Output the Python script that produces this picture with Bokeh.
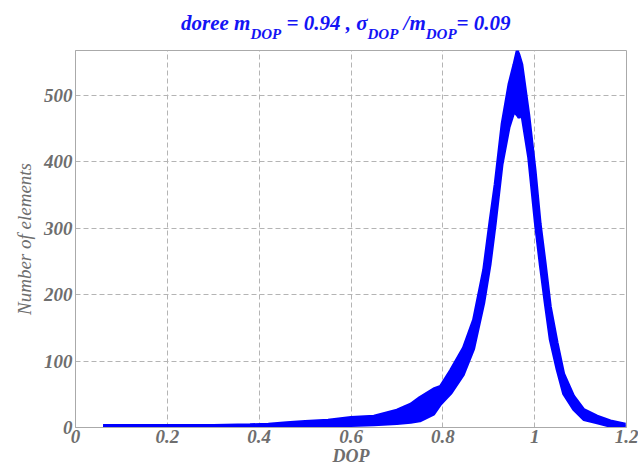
from bokeh.plotting import figure
from bokeh.models import FixedTicker, Div
from bokeh.layouts import column
from bokeh.embed import file_html
from bokeh.resources import INLINE

# ---- data (band of the noisy histogram) ----
dop = [0.06, 0.10, 0.20, 0.30, 0.38, 0.42, 0.46, 0.50, 0.55, 0.60, 0.65,
       0.70, 0.73, 0.75, 0.78, 0.795, 0.817, 0.845, 0.867, 0.889, 0.903,
       0.914, 0.929, 0.944, 0.955, 0.962, 0.966, 0.972, 0.987, 1.001,
       1.012, 1.023, 1.034, 1.049, 1.063, 1.085, 1.107, 1.136, 1.165, 1.198]
count_low = [0, 0, 0, 0, 0, 0, 1, 1, 2, 3, 4, 6, 8, 10, 20, 35, 51, 80, 118,
             187, 246, 306, 396, 451, 475, 470, 466, 471, 406, 311, 246, 187,
             132, 87, 51, 27, 12, 7, 2, 1]
count_high = [3, 3, 3, 3, 4, 5, 7, 9, 11, 15, 17, 26, 35, 45, 58, 62, 86, 120,
              162, 237, 311, 366, 456, 516, 546, 567, 560, 546, 471, 386, 306,
              246, 182, 127, 81, 47, 27, 17, 10, 5]

x_ticks = [0, 0.2, 0.4, 0.6, 0.8, 1.0, 1.2]
x_tick_labels = ["0", "0.2", "0.4", "0.6", "0.8", "1", "1.2"]
y_ticks = [0, 100, 200, 300, 400, 500]
y_tick_labels = ["0", "100", "200", "300", "400", "500"]

X_MAX = 1.2
Y_MAX = 567

GREY = "#6e6e6e"
BLUE = "#0000ff"
TITLE_BLUE = "#1414f5"
FONT = "Liberation Serif"

DIV_H = 40

sub = "<span style=\"font-size:15px;vertical-align:-9px;\">DOP</span>"
title_html = (
    "<div style=\"font-family:'Liberation Serif', 'Times New Roman', serif;"
    "font-weight:bold;font-style:italic;font-size:21px;line-height:23px;"
    "color:" + TITLE_BLUE + ";"
    "padding-left:181px;padding-top:12px;margin:0;white-space:nowrap;\">"
    "doree m" + sub + " = 0.94 , \u03c3" + sub + " /m" + sub + "= 0.09"
    "</div>"
)
title_div = Div(text=title_html, width=638, height=DIV_H, margin=0)

p = figure(width=638, height=468 - DIV_H, output_backend="svg",
           toolbar_location=None,
           x_range=(0, X_MAX), y_range=(0, Y_MAX),
           min_border_left=75, min_border_right=12, min_border_top=50 - DIV_H,
           min_border_bottom=40, margin=0)

p.varea(x=dop, y1=count_low, y2=count_high, fill_color=BLUE)
p.line(dop, count_low, line_color=BLUE, line_width=3)
p.line(dop, count_high, line_color=BLUE, line_width=3)

# axes styling
p.xaxis.ticker = FixedTicker(ticks=x_ticks)
p.yaxis.ticker = FixedTicker(ticks=y_ticks)
p.xaxis.major_label_overrides = dict(zip(x_ticks, x_tick_labels))
p.yaxis.major_label_overrides = dict(zip(y_ticks, y_tick_labels))
for ax in (p.xaxis, p.yaxis):
    ax.major_tick_in = 0
    ax.major_tick_out = 0
    ax.minor_tick_in = 0
    ax.minor_tick_out = 0
    ax.axis_line_color = "#aaaaaa"
    ax.major_label_text_font = FONT
    ax.major_label_text_font_style = "bold italic"
    ax.major_label_text_font_size = "19px"
    ax.major_label_text_color = GREY
p.xaxis.major_label_standoff = 2
p.yaxis.major_label_standoff = 3
p.xaxis.axis_label = "DOP"
p.xaxis.axis_label_text_font = FONT
p.xaxis.axis_label_text_font_style = "bold italic"
p.xaxis.axis_label_text_font_size = "18px"
p.xaxis.axis_label_text_color = GREY
p.xaxis.axis_label_standoff = 0
p.yaxis.axis_label = "Number of elements"
p.yaxis.axis_label_text_font = FONT
p.yaxis.axis_label_text_font_style = "italic"
p.yaxis.axis_label_text_font_size = "19px"
p.yaxis.axis_label_text_color = GREY
p.yaxis.axis_label_standoff = 6

p.grid.grid_line_color = "#b4b4b4"
p.grid.grid_line_dash = "5 3"
p.grid.grid_line_width = 1
p.outline_line_color = "#aaaaaa"
p.outline_line_width = 1
p.background_fill_color = "white"
p.border_fill_color = "white"

layout = column(title_div, p, spacing=0)
open("out.html", "w").write(file_html(layout, INLINE))
